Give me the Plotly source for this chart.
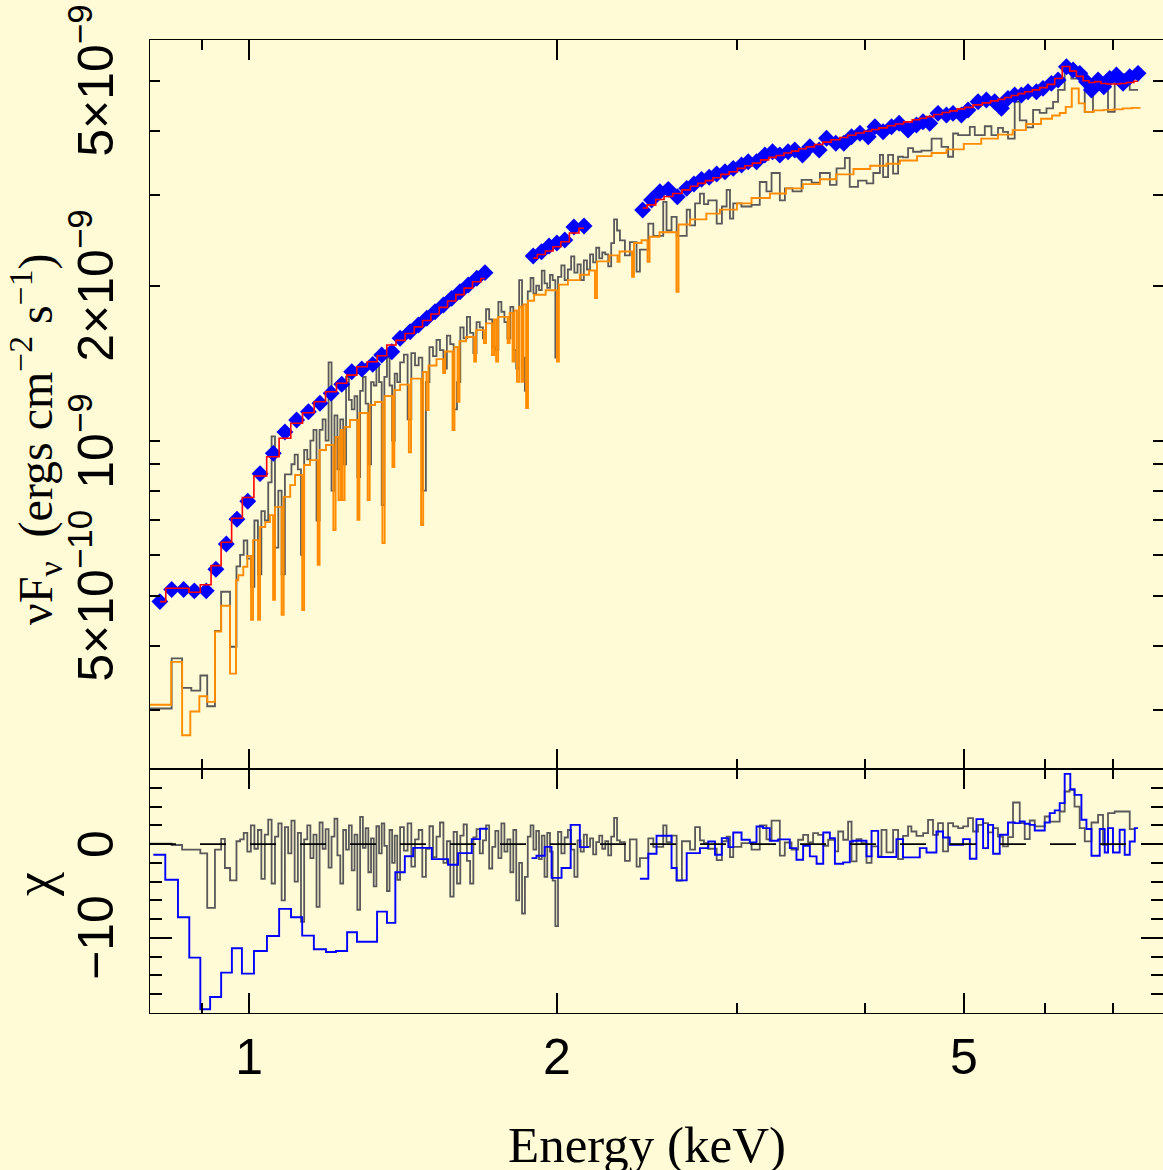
import numpy as np
import plotly.graph_objects as go

# ------------------------------------------------------------------
# Spectrum data.  Energies in keV, fluxes (nuFnu) in 1e-9 erg cm^-2 s^-1
# ------------------------------------------------------------------

# binned spectrum shown as blue diamonds, with its fitted model (red)
blue_E1 = [0.818, 0.840, 0.863, 0.884, 0.908, 0.928, 0.950, 0.973, 0.997, 1.025,
           1.056, 1.084, 1.113, 1.143, 1.173, 1.203, 1.232, 1.260, 1.289, 1.321,
           1.348, 1.379, 1.405, 1.437, 1.464, 1.492, 1.520, 1.549, 1.578, 1.608,
           1.638, 1.670, 1.701]
blue_F1 = [0.487, 0.514, 0.514, 0.511, 0.511, 0.563, 0.630, 0.704, 0.763, 0.863,
           0.945, 1.040, 1.097, 1.138, 1.182, 1.236, 1.287, 1.361, 1.378, 1.407,
           1.467, 1.489, 1.581, 1.628, 1.678, 1.729, 1.780, 1.834, 1.890, 1.947,
           2.006, 2.067, 2.120]
model_F1 = [0.487, 0.517, 0.517, 0.508, 0.525, 0.572, 0.635, 0.707, 0.776, 0.854,
            0.931, 1.011, 1.081, 1.133, 1.190, 1.245, 1.293, 1.341, 1.392, 1.423,
            1.462, 1.534, 1.566, 1.615, 1.664, 1.712, 1.762, 1.815, 1.868, 1.922,
            1.978, 2.035, 2.065]

blue_E2 = [1.896, 1.932, 1.965, 2.000, 2.036, 2.078, 2.126]
blue_F2 = [2.284, 2.328, 2.388, 2.421, 2.454, 2.600, 2.612]
model_F2 = [2.262, 2.300, 2.335, 2.380, 2.434, 2.532, 2.585]

blue_E3 = [2.426, 2.475, 2.522, 2.570, 2.623, 2.679, 2.723, 2.770, 2.818, 2.866,
           2.920, 2.975, 3.031, 3.077, 3.135, 3.194, 3.250, 3.304, 3.366, 3.417,
           3.477, 3.535, 3.610, 3.670, 3.748, 3.816, 3.883, 3.957, 4.032, 4.093,
           4.169, 4.249, 4.322, 4.410, 4.494, 4.561, 4.631, 4.718, 4.808, 4.880,
           4.973, 5.048, 5.163, 5.261, 5.360, 5.442, 5.523, 5.607, 5.692, 5.778,
           5.888, 5.976, 6.090, 6.182, 6.300, 6.395, 6.492, 6.591, 6.665, 6.765,
           6.852, 6.945, 7.051, 7.157, 7.265, 7.402]
blue_F3 = [2.805, 2.934, 3.044, 3.077, 2.977, 3.091, 3.151, 3.218, 3.247, 3.295,
           3.329, 3.380, 3.430, 3.481, 3.481, 3.587, 3.641, 3.587, 3.641, 3.669,
           3.587, 3.723, 3.669, 3.866, 3.781, 3.781, 3.894, 3.954, 3.894, 4.072,
           3.981, 4.072, 4.134, 4.011, 4.102, 4.163, 4.134, 4.322, 4.290, 4.322,
           4.290, 4.387, 4.552, 4.587, 4.552, 4.421, 4.622, 4.691, 4.691, 4.761,
           4.761, 4.833, 4.943, 5.016, 5.324, 5.246, 5.169, 4.978, 4.797, 5.016,
           4.868, 5.054, 5.130, 4.943, 5.091, 5.169]
model_F3 = [2.83, 2.87, 2.94, 2.98, 3.02, 3.07, 3.12, 3.16, 3.20, 3.24,
            3.29, 3.33, 3.38, 3.42, 3.46, 3.51, 3.55, 3.58, 3.62, 3.65,
            3.69, 3.72, 3.76, 3.80, 3.84, 3.88, 3.92, 3.96, 3.99, 4.02,
            4.05, 4.09, 4.12, 4.16, 4.20, 4.23, 4.26, 4.30, 4.34, 4.37,
            4.41, 4.44, 4.49, 4.53, 4.57, 4.60, 4.64, 4.68, 4.72, 4.76,
            4.80, 4.85, 4.92, 5.05, 5.33, 5.22, 5.10, 5.00, 4.96, 4.98,
            4.94, 4.93, 4.93, 4.94, 4.96, 4.99]

# absorbed continuum model with narrow absorption lines (orange), bin start energies
orange_E = [0.800, 0.839, 0.860, 0.876, 0.894, 0.910, 0.926, 0.939, 0.958, 0.971,
            0.976, 0.987, 0.996, 1.0045, 1.009, 1.0205, 1.025, 1.037, 1.048, 1.0555,
            1.060, 1.076, 1.081, 1.097, 1.109, 1.127, 1.132, 1.147, 1.167, 1.172,
            1.189, 1.209, 1.215, 1.223, 1.229, 1.234, 1.240, 1.255, 1.2765, 1.282,
            1.306, 1.312, 1.328, 1.350, 1.357, 1.381, 1.387, 1.405, 1.433, 1.440,
            1.473, 1.480, 1.491, 1.498, 1.525, 1.548, 1.555, 1.581, 1.588, 1.599,
            1.606, 1.630, 1.660, 1.667, 1.697, 1.705, 1.728, 1.736, 1.744, 1.752,
            1.790, 1.798, 1.810, 1.818, 1.828, 1.837, 1.847, 1.855, 1.866, 1.874,
            1.900, 1.950, 2.000, 2.009, 2.050, 2.106, 2.150, 2.179, 2.189, 2.250,
            2.2925, 2.303, 2.3686, 2.379, 2.420, 2.4527, 2.464, 2.520, 2.6178, 2.630,
            2.700, 2.800, 2.887, 3.000, 3.100, 3.231, 3.350, 3.480, 3.616, 3.750,
            3.900, 4.050, 4.200, 4.329, 4.500, 4.650, 4.809, 5.000, 5.200, 5.400,
            5.582, 5.750, 5.950, 6.100, 6.206, 6.290, 6.376, 6.477, 6.565, 6.700,
            6.850, 7.000, 7.150, 7.300, 7.430]
orange_F = [0.307, 0.372, 0.268, 0.298, 0.319, 0.311, 0.426, 0.478, 0.353, 0.536,
            0.548, 0.569, 0.597, 0.449, 0.641, 0.449, 0.680, 0.695, 0.717, 0.491,
            0.743, 0.459, 0.778, 0.820, 0.858, 0.469, 0.897, 0.917, 0.574, 0.959,
            0.981, 0.671, 1.017, 0.767, 1.049, 0.767, 1.063, 1.097, 0.702, 1.132,
            0.767, 1.173, 1.189, 0.633, 1.221, 0.889, 1.254, 1.285, 0.950, 1.320,
            0.686, 1.360, 1.147, 1.400, 1.440, 1.354, 1.490, 1.049, 1.520, 1.190,
            1.560, 1.590, 1.424, 1.640, 1.548, 1.690, 1.467, 1.720, 1.424, 1.740,
            1.548, 1.770, 1.424, 1.790, 1.302, 1.820, 1.302, 1.840, 1.157, 1.870,
            1.920, 1.960, 1.424, 2.010, 2.050, 2.100, 2.140, 1.893, 2.230, 2.290,
            2.226, 2.330, 2.082, 2.420, 2.450, 2.226, 2.490, 2.540, 1.947, 2.630,
            2.690, 2.760, 2.810, 2.890, 2.960, 3.020, 3.090, 3.150, 3.220, 3.290,
            3.370, 3.420, 3.450, 3.500, 3.570, 3.620, 3.680, 3.770, 3.860, 3.930,
            4.010, 4.120, 4.220, 4.280, 4.330, 4.450, 4.830, 4.520, 4.350, 4.380,
            4.390, 4.400, 4.420, 4.430, 4.440]

# finely binned spectrum (grey): shared bin start energies below 2.3 keV
gray_E_low = [0.800, 0.840, 0.860, 0.878, 0.896, 0.910, 0.926, 0.939, 0.947, 0.958, 0.972,
              0.980, 0.988, 0.996, 1.004, 1.012, 1.020, 1.028, 1.036, 1.044, 1.052,
              1.060, 1.068, 1.076, 1.084, 1.092, 1.100, 1.108, 1.116, 1.124, 1.132,
              1.140, 1.148, 1.156, 1.164, 1.172, 1.180, 1.188, 1.196, 1.204, 1.212,
              1.220, 1.228, 1.236, 1.244, 1.252, 1.260, 1.268, 1.276, 1.284, 1.292,
              1.300, 1.308, 1.316, 1.324, 1.332, 1.340, 1.348, 1.356, 1.364, 1.372,
              1.380, 1.388, 1.396,
              1.405, 1.417, 1.429, 1.441, 1.453, 1.465, 1.477, 1.489, 1.501, 1.513,
              1.525, 1.537, 1.549, 1.561, 1.573, 1.585, 1.597, 1.609, 1.621, 1.633,
              1.645, 1.657, 1.669, 1.681, 1.693, 1.705, 1.717, 1.729, 1.741, 1.753,
              1.765, 1.777, 1.789, 1.801, 1.813, 1.825, 1.837, 1.849, 1.861, 1.873,
              1.885, 1.897, 1.909, 1.921, 1.933, 1.945, 1.957, 1.969, 1.981, 1.993,
              2.005, 2.020, 2.035, 2.050, 2.065, 2.080, 2.095, 2.110, 2.125, 2.140,
              2.155, 2.170, 2.185, 2.200, 2.215, 2.230, 2.245, 2.260, 2.275, 2.290]
gray_F_low = [0.302, 0.378, 0.331, 0.327, 0.350, 0.305, 0.427, 0.509, 0.509, 0.398, 0.570,
              0.60, 0.64, 0.59, 0.52, 0.70, 0.55, 0.73, 0.70, 0.83, 1.02,
              0.62, 0.80, 0.55, 0.86, 0.86, 0.90, 0.94, 0.88, 0.60, 0.96,
              0.92, 1.00, 1.05, 0.70, 1.05, 1.10, 1.00, 1.42, 0.80, 1.12,
              0.88, 1.10, 0.90, 1.33, 1.20, 1.15, 1.22, 0.85, 1.25, 1.33,
              1.18, 0.90, 1.30, 1.28, 1.40, 1.30, 0.75, 1.33, 1.45, 1.28,
              1.00, 1.35, 1.30,
              1.42, 1.47, 1.10, 1.48, 1.40, 1.45, 0.80, 1.30, 1.52, 1.46,
              1.57, 1.50, 1.38, 1.60, 1.54, 1.15, 1.30, 1.66, 1.58, 1.74,
              1.62, 1.48, 1.70, 1.66, 1.58, 1.80, 1.72, 1.52, 1.50, 1.86,
              1.78, 1.70, 1.58, 1.82, 1.50, 1.38, 2.05, 1.45, 1.25, 1.95,
              2.07, 1.93, 2.00, 1.96, 2.14, 2.02, 1.98, 2.10, 2.05, 1.45,
              2.08, 2.19, 2.05, 2.15, 2.28, 2.12, 2.20, 2.05, 2.24, 2.15,
              2.30, 2.22, 2.37, 2.26, 2.32, 2.30, 2.18, 2.42, 2.69, 2.56]
gray_chi_low = [0.05, -0.1, -0.6, -0.6, -1.0, -6.8, -0.6, 0.56, -2.55, -3.87, 0.3,
                0.5, 1.2, -0.8, 2.0, -0.5, 1.5, -3.7, 1.0, 2.6, -4.2,
                0.8, 2.2, -6.0, 1.8, -1.0, 2.5, -4.0, 1.2, -8.3, 0.5,
                2.0, -1.5, 1.0, -6.7, 2.3, -0.5, 1.6, -2.5, 0.8, 2.7,
                -1.2, -4.2, 1.5, -0.6, 2.0, -2.8, 1.0, -7.0, 2.9, -0.4,
                1.7, -3.0, 0.6, -4.5, 1.9, -1.0, 2.2, -0.2, -5.0, 1.5,
                -2.0, 0.9, -3.8,
                1.8, -0.7, 2.2, -2.4, 0.5, 1.5, -3.5, -0.5, 1.9, -1.4,
                0.8, 2.3, -2.0, 0.3, -5.6, 1.3, -4.2, 0.9, 2.1, -1.8,
                -4.2, 0.7, 1.6, -1.0, 0.4, 2.0, -2.6, -0.3, 1.4, -1.5,
                2.2, -0.8, 0.5, -3.0, 1.5, -6.0, -2.0, -7.4, -3.5, 0.8,
                2.0, -0.6, 1.4, -1.6, 0.9, -3.5, 1.2, -0.8, -3.9, -8.75,
                1.3, -1.0, 0.7, 1.5, -0.6, -3.5, 0.4, -0.8, 1.0, -0.3,
                0.6, -1.1, 0.2, 0.9, -0.5, 0.3, -1.2, 0.8, 2.8, 0.4]

# grey spectrum above 2.3 keV (wider bins)
gray_E_high = [2.305, 2.331, 2.357, 2.393, 2.411, 2.457, 2.485, 2.541, 2.560, 2.589,
               2.619, 2.679, 2.699, 2.730, 2.760, 2.785, 2.812, 2.866, 2.900, 2.931,
               2.953, 2.975, 3.030, 3.100, 3.158, 3.206, 3.243, 3.304, 3.342, 3.400,
               3.470, 3.549, 3.616, 3.698, 3.754, 3.825, 3.867, 3.940, 4.017, 4.078,
               4.139, 4.169, 4.216, 4.264, 4.312, 4.360, 4.410, 4.460, 4.545, 4.650,
               4.755, 4.826, 4.881, 4.936, 5.068, 5.125, 5.242, 5.321, 5.400, 5.461,
               5.523, 5.607, 5.671, 5.757, 5.844, 5.932, 6.023, 6.113, 6.182, 6.275,
               6.370, 6.467, 6.565, 6.688, 6.790, 6.918, 7.023, 7.155, 7.265, 7.402]
gray_F_high = [2.45, 2.29, 2.43, 2.13, 2.35, 2.64, 2.50, 2.91, 2.56, 2.72,
               2.50, 2.81, 2.62, 2.89, 3.02, 2.88, 2.93, 2.64, 2.85, 3.07,
               2.70, 2.89, 2.85, 2.87, 3.18, 3.05, 3.31, 2.93, 3.09, 3.05,
               3.21, 3.17, 3.31, 3.14, 3.38, 3.54, 3.11, 3.20, 3.16, 3.31,
               3.59, 3.25, 3.59, 3.30, 3.56, 3.55, 3.70, 3.64, 3.66, 3.86,
               3.72, 3.56, 3.95, 3.92, 4.07, 3.92, 4.08, 3.92, 4.05, 3.98,
               3.86, 4.55, 4.19, 4.06, 4.39, 4.33, 4.42, 4.55, 4.80, 5.25,
               5.05, 5.17, 4.35, 4.98, 4.94, 4.35, 5.13, 5.15, 4.80, 4.80]

# grey residuals above 2.3 keV
gray_res_E_high = [2.305, 2.331, 2.357, 2.393, 2.411, 2.457, 2.485, 2.541, 2.560, 2.589,
                   2.619, 2.650, 2.679, 2.699, 2.730, 2.760, 2.785, 2.812, 2.866, 2.900,
                   2.931, 2.953, 2.975, 3.030, 3.100, 3.158, 3.206, 3.243, 3.304, 3.341,
                   3.392, 3.443, 3.482, 3.521, 3.561, 3.602, 3.643, 3.684, 3.740, 3.768,
                   3.811, 3.853, 3.883, 3.927, 3.971, 4.016, 4.062, 4.123, 4.154, 4.201,
                   4.264, 4.312, 4.360, 4.410, 4.443, 4.494, 4.562, 4.613, 4.665, 4.718,
                   4.771, 4.826, 4.881, 4.936, 4.992, 5.048, 5.105, 5.163, 5.222, 5.281,
                   5.341, 5.400, 5.461, 5.523, 5.586, 5.671, 5.735, 5.800, 5.866, 5.910,
                   5.999, 6.067, 6.205, 6.275, 6.345, 6.416, 6.490, 6.565, 6.665, 6.765,
                   6.841, 6.918, 7.022, 7.102, 7.265, 7.348]
gray_chi_high = [0.2, -1.8, 0.5, -2.4, -1.5, 0.6, -0.3, 2.0, 0.2, 0.9,
                 -3.9, 0.3, 0.3, -0.6, 1.8, 0.4, 0.1, -0.5, -1.7, 0.3,
                 0.8, -1.4, -0.3, 0.1, -0.6, 2.0, 0.5, 2.5, -1.24, 0.17,
                 -0.6, 0.46, 0.99, 0.17, 1.17, 0.99, -0.18, 0.46, -0.78, 1.34,
                 0.46, 2.4, -1.85, 0.53, 0.1, -2.0, -0.25, -1.3, 1.52, -0.89,
                 1.52, -1.6, 0.88, 1.88, 1.34, 0.88, 1.17, 2.58, 0.99, 2.23,
                 -0.78, 2.23, 1.88, 1.7, 1.88, 2.76, 1.34, 2.05, 2.23, 1.24,
                 1.7, 0.81, -0.25, 0.74, 4.43, 2.23, 0.53, 2.51, 1.88, 1.88,
                 2.94, 2.4, 3.47, 5.6, 5.78, 4.0, 1.7, 0.28, 2.3, 3.12,
                 -0.07, 3.3, 3.47, 3.47, 1.6, 1.6]

# residuals of the blue spectrum, bin start energies (last entry closes the bin)
blue_res_E1 = [0.806, 0.828, 0.852, 0.874, 0.896, 0.916, 0.939, 0.962, 0.984, 1.011,
               1.041, 1.070, 1.099, 1.127, 1.157, 1.189, 1.216, 1.247, 1.275, 1.304,
               1.334, 1.364, 1.390, 1.420, 1.447, 1.509, 1.565, 1.601, 1.651, 1.682,
               1.712]
blue_chi1 = [-1.14, -3.8, -7.8, -12.1, -17.6, -16.3, -13.7, -11.1, -13.8, -11.4,
             -9.8, -6.9, -7.8, -9.76, -11.2, -11.5, -11.4, -9.4, -10.4, -10.4,
             -7.2, -8.4, -3.0, -1.3, -0.4, -1.6, -2.2, -0.96, 0.53, 1.63,
             1.63]
blue_res_E2 = [1.889, 1.910, 1.946, 1.976, 2.021, 2.063, 2.106, 2.149]
blue_chi2 = [-1.5, -1.24, -0.3, -3.6, -2.55, 2.05, -0.32, -0.32]
blue_res_E3 = [2.411, 2.457, 2.503, 2.589, 2.619, 2.679, 2.760, 2.812, 2.855, 2.899,
               2.942, 2.975, 3.031, 3.088, 3.135, 3.182, 3.230, 3.291, 3.379, 3.430,
               3.482, 3.535, 3.589, 3.643, 3.698, 3.740, 3.811, 3.868, 3.897, 4.016,
               4.062, 4.123, 4.296, 4.360, 4.528, 4.597, 4.701, 4.771, 4.844, 4.992,
               5.068, 5.144, 5.222, 5.281, 5.341, 5.421, 5.523, 5.607, 5.671, 5.735,
               5.800, 5.866, 5.999, 6.067, 6.136, 6.205, 6.275, 6.355, 6.416, 6.516,
               6.590, 6.665, 6.790, 6.867, 6.918, 6.996, 7.102, 7.183, 7.265, 7.348,
               7.402]
blue_chi3 = [-3.7, -1.03, 0.88, -2.55, -3.87, -0.96, -0.43, 0.28, -1.14, 0.63,
             -0.32, 1.23, 0.46, 0.17, 1.87, 1.7, 0.35, 0.5, -0.43, -1.67,
             -0.18, -1.31, -2.09, 1.24, 0.63, -2.09, -1.95, 0.28, 0.35, -1.31,
             1.41, -1.38, 0.53, -1.42, -0.43, -0.89, 1.34, 0.70, -0.07, 0.53,
             -1.56, 2.66, -0.43, 2.05, -1.03, 0.99, 2.30, 2.23, 2.41, 2.16,
             2.05, 1.45, 2.30, 3.30, 3.59, 4.36, 7.48, 5.85, 5.24, 2.59,
             1.60, -1.24, 1.60, -0.89, 1.70, -0.89, 1.52, -1.14, 0.28, 1.70,
             1.70]

# axis ticks
x_major = [1, 2, 5]
x_minor = [0.9, 3, 4, 6, 7]
flux_labelled = [0.5, 1, 2, 5]
flux_labels = ["5×10<sup>−10</sup>", "10<sup>−9</sup>", "2×10<sup>−9</sup>", "5×10<sup>−9</sup>"]
flux_minor = [0.3, 0.4, 0.6, 0.7, 0.8, 0.9, 3, 4]
chi_major = [-10, 0]
chi_labels = ["−10", "0"]
chi_minor = [-18, -16, -14, -12, -8, -6, -4, -2, 2, 4, 6, 8]

for a, b in [(blue_E1, blue_F1), (blue_E1, model_F1), (blue_E2, blue_F2), (blue_E2, model_F2),
             (blue_E3, blue_F3), (blue_E3, model_F3), (orange_E, orange_F),
             (gray_E_low, gray_F_low), (gray_E_low, gray_chi_low), (gray_E_high, gray_F_high),
             (gray_res_E_high, gray_chi_high), (blue_res_E1, blue_chi1),
             (blue_res_E2, blue_chi2), (blue_res_E3, blue_chi3)]:
    assert len(a) == len(b), (len(a), len(b))

# ------------------------------------------------------------------
BG = "#fffbd6"
GRAY = "#595959"
ORANGE = "#ff8c00"
BLUE = "#0000ff"
RED = "#ff0000"
SANS = "Liberation Sans, Arial, sans-serif"
SERIF = "Liberation Serif, Times New Roman, serif"
TICK_SIZE = 50

W, H = 1163, 1170
ML, MR, MT, MB = 150, 0, 40, 157
split = (1013 - 769) / (H - MT - MB)
PW = W - ML - MR
PH = H - MT - MB


def px(xp):
    return (xp - ML) / PW


def py(yp):
    return (H - MB - yp) / PH


def join(*parts):
    out = []
    for i, p in enumerate(parts):
        if i:
            out.append(None)
        out.extend(p)
    return out


fig = go.Figure()

# top panel: grey spectrum, orange model, blue data, red model
fig.add_trace(go.Scatter(x=gray_E_low + gray_E_high, y=gray_F_low + gray_F_high,
                         mode="lines", line=dict(color=GRAY, width=1.8, shape="hv"),
                         xaxis="x", yaxis="y"))
fig.add_trace(go.Scatter(x=orange_E, y=orange_F, mode="lines",
                         line=dict(color=ORANGE, width=1.9, shape="hv"),
                         xaxis="x", yaxis="y"))
fig.add_trace(go.Scatter(x=blue_E1 + blue_E2 + blue_E3, y=blue_F1 + blue_F2 + blue_F3,
                         mode="markers", marker=dict(symbol="diamond", size=13, color=BLUE,
                                                     line=dict(width=0)),
                         xaxis="x", yaxis="y"))
fig.add_trace(go.Scatter(x=join(blue_E1, blue_E2, blue_E3),
                         y=join(model_F1, model_F2, model_F3),
                         mode="lines", line=dict(color=RED, width=1.6, shape="hvh"),
                         connectgaps=False, xaxis="x", yaxis="y"))

# bottom panel: residuals
fig.add_trace(go.Scatter(x=gray_E_low + gray_res_E_high, y=gray_chi_low + gray_chi_high,
                         mode="lines", line=dict(color=GRAY, width=1.8, shape="hv"),
                         xaxis="x2", yaxis="y2"))
fig.add_trace(go.Scatter(x=join(blue_res_E1, blue_res_E2, blue_res_E3),
                         y=join(blue_chi1, blue_chi2, blue_chi3),
                         mode="lines", line=dict(color=BLUE, width=1.9, shape="hv"),
                         connectgaps=False, xaxis="x2", yaxis="y2"))

xr = [np.log10(0.8), np.log10(7.83)]
yr_flux = [np.log10(0.2304), np.log10(6.0)]
axis_common = dict(showline=True, linecolor="black", linewidth=1.4, mirror="ticks",
                   ticks="inside", tickcolor="black", tickwidth=1.5, showgrid=False,
                   zeroline=False)
minor_common = dict(ticks="inside", tickcolor="black", tickwidth=1.5)

fig.update_layout(
    width=W, height=H,
    margin=dict(l=ML, r=MR, t=MT, b=MB, pad=0),
    paper_bgcolor=BG, plot_bgcolor=BG,
    showlegend=False,
    xaxis=dict(type="log", range=xr, domain=[0, 1], anchor="y",
               tickvals=x_major, ticklen=20, showticklabels=False,
               minor=dict(tickvals=x_minor, ticklen=10, **minor_common),
               **axis_common),
    yaxis=dict(type="log", range=yr_flux, domain=[split, 1],
               anchor="x", tickvals=flux_labelled, ticklen=10, showticklabels=False,
               minor=dict(tickvals=flux_minor, ticklen=10, **minor_common),
               **axis_common),
    yaxis3=dict(type="log", range=yr_flux, domain=[split, 1],
                anchor="x", overlaying="y", tickvals=[1], ticklen=20,
                showticklabels=False, ticks="inside", tickcolor="black", tickwidth=1.5,
                mirror="ticks", showline=False, showgrid=False, zeroline=False),
    xaxis2=dict(type="log", range=xr, domain=[0, 1], anchor="y2",
                tickvals=x_major, ticktext=[str(v) for v in x_major], ticklen=20,
                tickfont=dict(family=SANS, size=TICK_SIZE, color="black"),
                minor=dict(tickvals=x_minor, ticklen=10, **minor_common),
                **axis_common),
    yaxis2=dict(range=[-18, 8], domain=[0, split], anchor="x2",
                tickvals=chi_major, ticklen=22, showticklabels=False,
                minor=dict(tickvals=chi_minor, ticklen=12, **minor_common),
                **axis_common),
)

# rotated y tick labels, set slightly away from the axis line
for v, t in zip(flux_labelled, flux_labels):
    fig.add_annotation(text=t, x=px(126), y=np.log10(v), xref="paper", yref="y",
                       textangle=-90, showarrow=False, xanchor="right", yanchor="middle",
                       font=dict(family=SANS, size=TICK_SIZE, color="black"))
for v, t in zip(chi_major, chi_labels):
    fig.add_annotation(text=t, x=px(126), y=v, xref="paper", yref="y2",
                       textangle=-90, showarrow=False, xanchor="right", yanchor="middle",
                       font=dict(family=SANS, size=TICK_SIZE, color="black"))

# dashed zero line of the residual panel
fig.add_shape(type="line", xref="x2 domain", x0=0, x1=1, yref="y2", y0=0, y1=0,
              line=dict(color="black", width=1.6, dash="26px,24px"), layer="above")

fig.add_annotation(text="νF<sub>ν</sub>  (ergs cm<sup>−2</sup> s<sup>−1</sup>)",
                   x=px(36), y=py(440), xref="paper", yref="paper", textangle=-90,
                   showarrow=False, xanchor="center", yanchor="middle",
                   font=dict(family=SERIF, size=48, color="black"))
fig.add_annotation(text="χ", x=px(34), y=py(885), xref="paper", yref="paper",
                   textangle=-90, showarrow=False, xanchor="center", yanchor="middle",
                   font=dict(family=SERIF, size=54, color="black"))
fig.add_annotation(text="Energy (keV)", x=px(647), y=py(1145), xref="paper", yref="paper",
                   showarrow=False, xanchor="center", yanchor="middle",
                   font=dict(family=SERIF, size=51, color="black"))

fig.write_html("out.html")
